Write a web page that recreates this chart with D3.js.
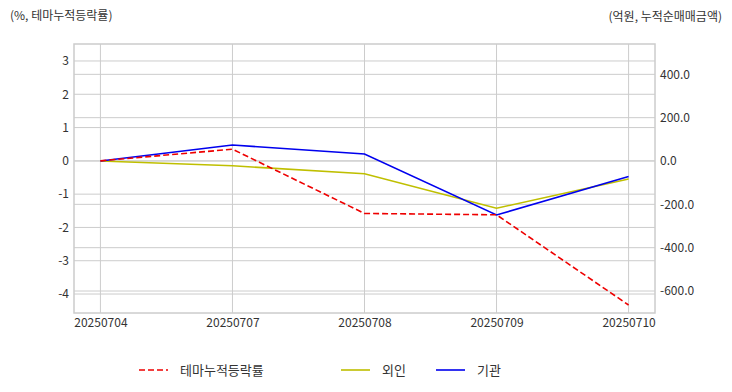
<!DOCTYPE html>
<html><head><meta charset="utf-8">
<script src="https://cdn.jsdelivr.net/npm/d3@7"></script>
<style>body{margin:0;background:#fff}text{font-family:"Noto Sans CJK KR","Noto Sans",sans-serif}</style>
</head><body><svg id="c" width="732" height="392"></svg>
<script>
const dates = ["20250704","20250707","20250708","20250709","20250710"];
const themeRate = [0, 0.35, -1.58, -1.62, -4.33];
const foreign = [0, -22, -59, -218, -83];
const inst = [0, 74, 32, -249, -72];
const leftTicks = [3,2,1,0,-1,-2,-3,-4];
const rightTicks = [400,200,0,-200,-400,-600];

const svg = d3.select("#c");
const L=74,R=655,T=44,B=313;
const x = d3.scaleLinear().domain([-0.2,4.2]).range([L,R]);
const yL = d3.scaleLinear().domain([-4.57,3.51]).range([B,T]);
const yR = d3.scaleLinear().domain([-701.5,540]).range([B,T]);
const grid="#cccccc", tc="#333";

const g = svg.append("g");
// grid
g.selectAll(".gx").data(dates).join("line").attr("x1",(d,i)=>x(i)).attr("x2",(d,i)=>x(i)).attr("y1",T).attr("y2",B).attr("stroke",grid).attr("stroke-width",1);
g.selectAll(".gl").data(leftTicks).join("line").attr("x1",L).attr("x2",R).attr("y1",d=>yL(d)).attr("y2",d=>yL(d)).attr("stroke",grid).attr("stroke-width",1);
g.selectAll(".gr").data(rightTicks).join("line").attr("x1",L).attr("x2",R).attr("y1",d=>yR(d)).attr("y2",d=>yR(d)).attr("stroke",grid).attr("stroke-width",1);
g.append("rect").attr("x",L).attr("y",T).attr("width",R-L).attr("height",B-T).attr("fill","none").attr("stroke",grid).attr("stroke-width",1.5);

// axes
const axL = d3.axisLeft(yL).tickValues(leftTicks).tickSize(0).tickPadding(5).tickFormat(d3.format("d"));
const gL = svg.append("g").attr("transform",`translate(${L},0)`).call(axL);
const axR = d3.axisRight(yR).tickValues(rightTicks).tickSize(0).tickPadding(5).tickFormat(d3.format(".1f"));
const gR = svg.append("g").attr("transform",`translate(${R},0)`).call(axR);
const axX = d3.axisBottom(x).tickValues(d3.range(dates.length)).tickSize(0).tickPadding(5).tickFormat(i=>dates[i]);
const gX = svg.append("g").attr("transform",`translate(0,${B})`).call(axX);
[gL,gR,gX].forEach(a=>{a.select(".domain").remove();a.selectAll("text").attr("fill",tc).style("font-size","12px").style("font-family",'"Noto Sans CJK KR","Noto Sans",sans-serif');});
gL.selectAll("text").text(d=>d<0?"-"+Math.abs(d):d);
gR.selectAll("text").text(d=>(d<0?"-":"")+Math.abs(d).toFixed(1));

// lines
const lnL = d3.line().x((d,i)=>x(i)).y(d=>yL(d));
const lnR = d3.line().x((d,i)=>x(i)).y(d=>yR(d));
svg.append("path").datum(foreign).attr("d",lnR).attr("fill","none").attr("stroke","#bfbf00").attr("stroke-width",1.6);
svg.append("path").datum(inst).attr("d",lnR).attr("fill","none").attr("stroke","#0000ee").attr("stroke-width",1.6);
svg.append("path").datum(themeRate).attr("d",lnL).attr("fill","none").attr("stroke","#ee0000").attr("stroke-width",1.6).attr("stroke-dasharray","6,3");

// titles
svg.append("text").attr("x",10).attr("y",20).attr("fill",tc).style("font-size","12px").text("(%, 테마누적등락률)");
svg.append("text").attr("x",722).attr("y",21).attr("text-anchor","end").attr("fill",tc).style("font-size","12px").text("(억원, 누적순매매금액)");

// legend
const legend = [
  {name:"테마누적등락률", color:"#ee0000", dash:"6,3", x:139},
  {name:"외인", color:"#bfbf00", dash:null, x:341},
  {name:"기관", color:"#0000ee", dash:null, x:436}
];
const lg = svg.selectAll(".lg").data(legend).join("g").attr("transform",d=>`translate(${d.x},370)`);
lg.append("line").attr("x1",0).attr("x2",29).attr("y1",0).attr("y2",0).attr("stroke",d=>d.color).attr("stroke-width",1.6).attr("stroke-dasharray",d=>d.dash);
lg.append("text").attr("x",41).attr("y",4.5).attr("fill",tc).style("font-size","13px").text(d=>d.name);
</script></body></html>
